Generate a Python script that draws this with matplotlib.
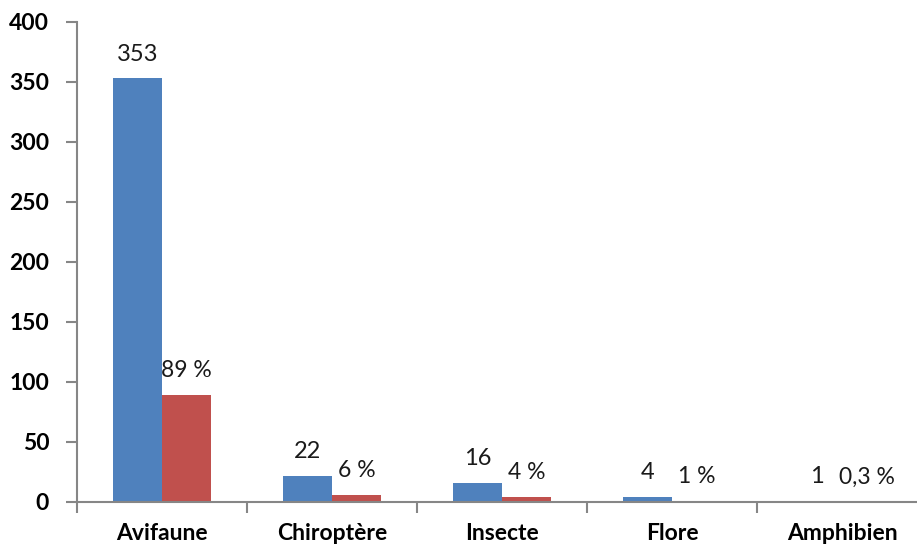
import matplotlib
matplotlib.use('Agg')
import matplotlib.pyplot as plt
import numpy as np

categories = ['Avifaune', 'Chiroptère', 'Insecte', 'Flore', 'Amphibien']
counts = [353, 22, 16, 4, 1]
percents = [89, 6, 4, 1, 0.3]
percent_labels = ['89 %', '6 %', '4 %', '1 %', '0,3 %']
yticks = [0, 50, 100, 150, 200, 250, 300, 350, 400]

blue = '#4F81BD'
red = '#C0504D'
axis_grey = '#868686'

plt.rcParams['font.family'] = ['Lato', 'DejaVu Sans']

fig = plt.figure(figsize=(9.17, 5.48), dpi=100)
ax = fig.add_axes([77 / 917, 46 / 548, 850 / 917, 480 / 548])

x = np.arange(len(categories))
w = 0.29
b1 = ax.bar(x - w / 2, counts, w, color=blue)
b2 = ax.bar(x + w / 2, percents, w, color=red)

ax.bar_label(b1, labels=[str(c) for c in counts], padding=10, fontsize=17, color='#1a1a1a')
ax.bar_label(b2, labels=percent_labels, padding=10, fontsize=16.5, color='#1a1a1a')

ax.set_xlim(-0.5, len(categories) - 0.5)
ax.set_ylim(0, 400)
ax.set_yticks(yticks)
ax.set_yticklabels([str(t) for t in yticks], fontsize=16.5, fontweight='bold')

# category labels centred, tick marks between categories
ax.set_xticks(x)
ax.set_xticklabels(categories, fontsize=16.5, fontweight='bold')
ax.tick_params(axis='x', which='major', length=0, pad=15)
ax.set_xticks(np.arange(len(categories) + 1) - 0.5, minor=True)
ax.tick_params(axis='x', which='minor', length=8, width=1.5, color=axis_grey, direction='out')
ax.tick_params(axis='y', length=8, width=1.5, color=axis_grey, pad=12)

for s in ['top', 'right']:
    ax.spines[s].set_visible(False)
for s in ['left', 'bottom']:
    ax.spines[s].set_color(axis_grey)
    ax.spines[s].set_linewidth(1.5)

fig.savefig('out.png', dpi=100)
